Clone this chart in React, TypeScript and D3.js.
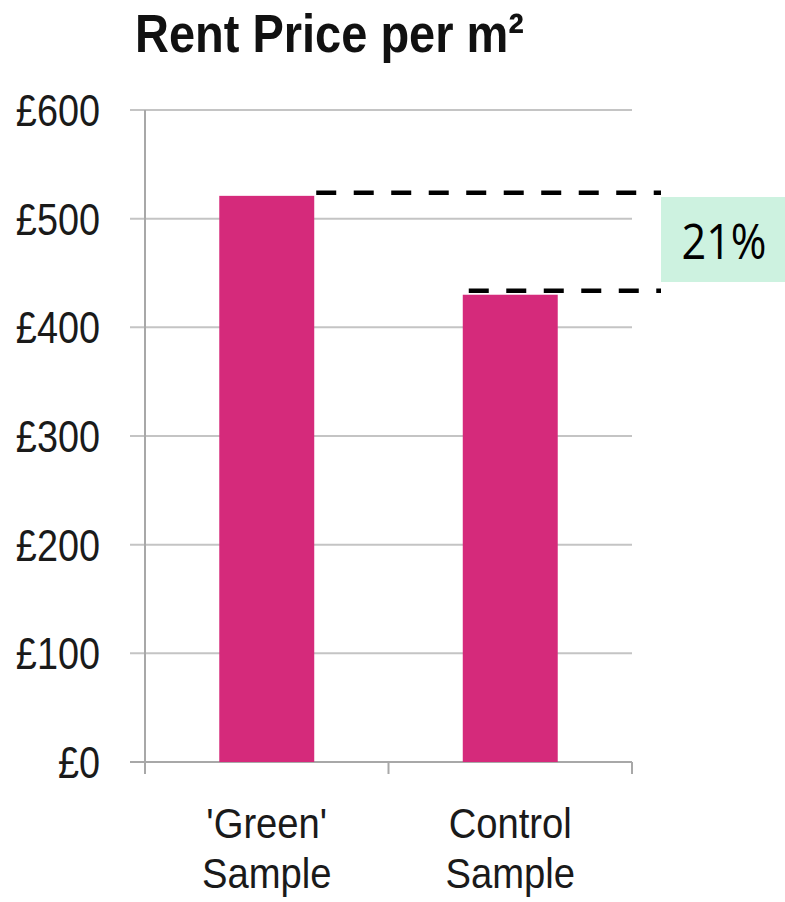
import React from "react";
import * as d3 from "d3";

const categories: string[][] = [["'Green'", "Sample"], ["Control", "Sample"]];
const categoryKeys: string[] = ["green", "control"];
const rentValues: number[] = [521, 430];
const yTicks: number[] = [0, 100, 200, 300, 400, 500, 600];
const title = "Rent Price per m\u00B2";
const diffLabel = "21%";

const W = 785;
const H = 902;

export default function App() {
  const x = d3.scaleBand<string>().domain(categoryKeys).range([145, 632]).paddingInner(0.61).paddingOuter(0.305);
  const y = d3.scaleLinear().domain([0, 600]).range([762, 110]);
  const fmt = (v: number) => "\u00A3" + d3.format("d")(v);
  const font = "'Liberation Sans', Arial, sans-serif";
  const xGreen = x(categoryKeys[0])! + x.bandwidth();
  const xControl = x(categoryKeys[1])!;
  const boxX = 661;
  const yTop = y(rentValues[0]) - 3;
  const yBot = y(rentValues[1]) - 4;

  return (
    <div style={{ position: "absolute", left: 0, top: 0, width: W, height: H, background: "#fff" }}>
      <svg width={W} height={H} style={{ display: "block" }}>
        <rect width={W} height={H} fill="#fff" />
        {/* title */}
        <text transform={`translate(135,52) scale(0.87,1)`} fontFamily={font} fontWeight="bold" fontSize={54} fill="#111">
          {title}
        </text>
        {/* gridlines */}
        {yTicks.map((t) => (
          <line key={"g" + t} x1={130} x2={632} y1={y(t)} y2={y(t)} stroke={t === 0 ? "#a8a8a8" : "#c4c4c4"} strokeWidth={2} />
        ))}
        {/* y axis */}
        <line x1={145} x2={145} y1={y(600)} y2={y(0) + 12} stroke="#a8a8a8" strokeWidth={2} />
        {/* x ticks */}
        {[145, (145 + 632) / 2, 632].map((tx, i) => (
          <line key={"xt" + i} x1={tx} x2={tx} y1={y(0)} y2={y(0) + 12} stroke="#a8a8a8" strokeWidth={2} />
        ))}
        {/* y tick labels */}
        {yTicks.map((t) => (
          <text key={"l" + t} transform={`translate(100,${y(t) + 16}) scale(0.86,1)`} textAnchor="end" fontFamily={font} fontSize={44} fill="#1a1a1a">
            {fmt(t)}
          </text>
        ))}
        {/* bars */}
        {categoryKeys.map((k, i) => (
          <rect key={k} x={x(k)!} width={x.bandwidth()} y={y(rentValues[i])} height={y(0) - y(rentValues[i])} fill="#d52a7b" />
        ))}
        {/* x labels */}
        {categoryKeys.map((k, i) =>
          categories[i].map((line, j) => (
            <text key={k + j} transform={`translate(${x(k)! + x.bandwidth() / 2},${838 + j * 50}) scale(0.91,1)`} textAnchor="middle" fontFamily={font} fontSize={42} fill="#1a1a1a">
              {line}
            </text>
          ))
        )}
        {/* dashed reference lines */}
        <line x1={xGreen + 2} x2={boxX} y1={yTop} y2={yTop} stroke="#000" strokeWidth={4.5} strokeDasharray="20,17.5" />
        <line x1={xControl + 6} x2={boxX} y1={yBot} y2={yBot} stroke="#000" strokeWidth={4.5} strokeDasharray="20,17.5" />
        {/* difference box */}
        <rect x={boxX} y={197} width={W - boxX} height={85} fill="#cdf2e0" />
        <text x={724} y={259} textAnchor="middle" fontFamily="'Open Sans', 'Noto Sans', sans-serif" fontSize={50} fill="#000" textLength={85} lengthAdjust="spacingAndGlyphs">
          {diffLabel}
        </text>
      </svg>
    </div>
  );
}
